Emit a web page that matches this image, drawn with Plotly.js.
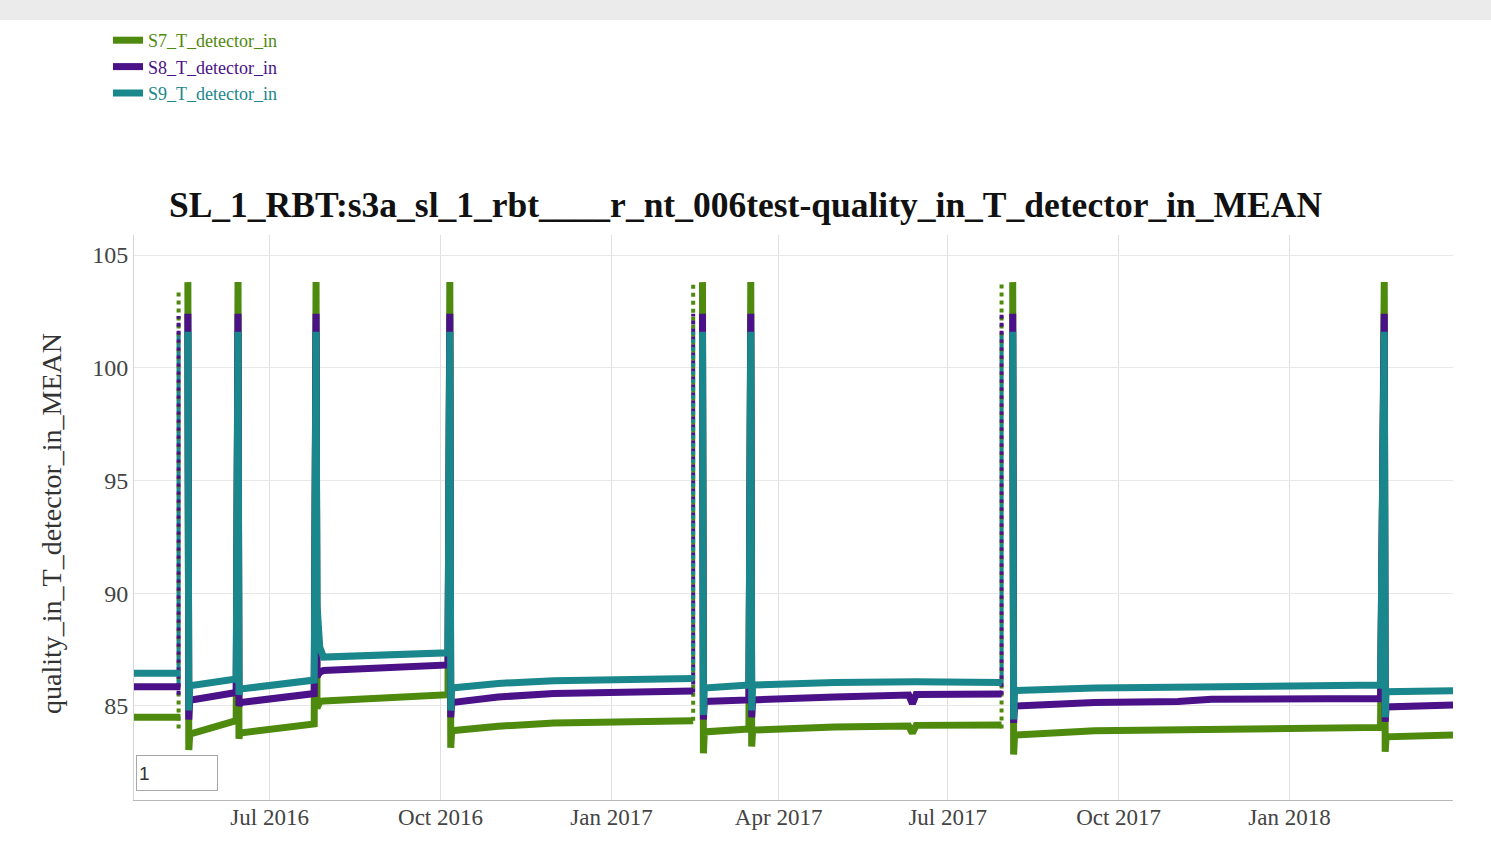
<!DOCTYPE html>
<html>
<head>
<meta charset="utf-8">
<script src="https://cdn.plot.ly/plotly-3.0.1.min.js"></script>
<style>
  html, body { margin: 0; padding: 0; background: #fff; }
  #topbar { position: absolute; left: 0; top: 0; width: 1491px; height: 20px; background: #ebebeb; z-index: 5; }
  #chart { width: 1491px; height: 845px; }
</style>
</head>
<body>
<div id="topbar"></div>
<div id="chart"></div>
<script>
// Sample times of the detector inlet temperature record (null values mark gaps)
const mainDates = [
  '2016-04-19', '2016-05-14', '2016-05-16',
  '2016-05-18', '2016-05-18 12:00', '2016-05-19', '2016-06-13',
  '2016-06-14', '2016-06-14 12:00', '2016-06-15', '2016-07-25',
  '2016-07-26', '2016-07-26 12:00', '2016-07-28', '2016-07-30', '2016-10-05',
  '2016-10-06', '2016-10-06 12:00', '2016-10-07', '2016-11-01', '2016-12-01', '2017-02-14', '2017-02-16',
  '2017-02-19', '2017-02-19 12:00', '2017-02-20', '2017-03-16',
  '2017-03-17', '2017-03-17 12:00', '2017-03-18', '2017-05-01', '2017-06-10', '2017-06-12', '2017-06-14', '2017-07-30', '2017-08-02',
  '2017-08-05', '2017-08-05 12:00', '2017-08-06', '2017-09-18', '2017-11-02', '2017-11-20', '2017-12-23', '2018-02-19',
  '2018-02-21', '2018-02-21 12:00', '2018-02-22', '2018-03-30'
];

const s7Vals = [
  84.5, 84.5, null,
  103.8, 83.05, 83.75, 84.35,
  103.8, 83.55, 83.8, 84.2,
  103.8, 84.9, 85.2, 85.22, 85.5,
  103.8, 83.15, 83.9, 84.1, 84.25, 84.35, null,
  103.8, 82.9, 83.85, 83.98,
  103.8, 83.2, 83.93, 84.07, 84.11, 83.8, 84.14, 84.16, null,
  103.8, 82.85, 83.71, 83.9, 83.95, 84.0, 84.02, 84.05,
  103.8, 82.97, 83.63, 83.71
];

const s8Vals = [
  85.85, 85.85, null,
  102.4, 84.4, 85.25, 85.6,
  102.4, 85.0, 85.15, 85.55,
  102.4, 86.3, 86.5, 86.57, 86.82,
  102.4, 84.5, 85.15, 85.4, 85.55, 85.67, null,
  102.4, 84.4, 85.2, 85.27,
  102.4, 84.5, 85.27, 85.4, 85.49, 85.1, 85.51, 85.53, null,
  102.4, 84.25, 85.0, 85.15, 85.2, 85.3, 85.33, 85.33,
  102.4, 84.3, 84.96, 85.04
];

const s9Vals = [
  86.45, 86.45, null,
  101.6, 84.8, 85.9, 86.2,
  101.6, 85.5, 85.75, 86.15,
  101.6, 89.5, 87.6, 87.17, 87.36,
  101.6, 84.8, 85.8, 86.0, 86.12, 86.22, null,
  101.6, 84.6, 85.8, 85.93,
  101.6, 84.8, 85.93, 86.04, 86.08, 86.08, 86.07, 86.04, null,
  101.6, 84.4, 85.68, 85.8, 85.83, 85.85, 85.9, 85.93,
  101.6, 84.5, 85.63, 85.68
];

// Sparsely sampled warm-up ramps before three of the peaks
const rampDates = ['2016-05-13', '2017-02-14', '2017-07-30'];
const s7RampLow = [84.0, 84.35, 84.0];
const s7RampHigh = [103.4, 103.8, 103.8];
const s8RampLow = [85.5, 85.6, 85.5];
const s8RampHigh = [102.3, 102.4, 102.4];
const s9RampLow = [86.0, 86.2, 86.0];
const s9RampHigh = [101.5, 101.6, 101.6];

const seriesNames = ['S7_T_detector_in', 'S8_T_detector_in', 'S9_T_detector_in'];
const seriesColors = ['#4e8a0e', '#4a1189', '#1a878c'];

const chartTitle = 'SL_1_RBT:s3a_sl_1_rbt____r_nt_006test-quality_in_T_detector_in_MEAN';
const yTitle = 'quality_in_T_detector_in_MEAN';
const pageLabel = '1';

const serif = '"Liberation Serif", "Times New Roman", Times, serif';

const series = [
  { name: seriesNames[0], color: seriesColors[0], vals: s7Vals, low: s7RampLow, high: s7RampHigh },
  { name: seriesNames[1], color: seriesColors[1], vals: s8Vals, low: s8RampLow, high: s8RampHigh },
  { name: seriesNames[2], color: seriesColors[2], vals: s9Vals, low: s9RampLow, high: s9RampHigh }
];

const traces = [];

// dotted ramps underneath
series.forEach(s => {
  const x = [], y = [];
  rampDates.forEach((d, i) => { x.push(d, d, null); y.push(s.low[i], s.high[i], null); });
  traces.push({
    type: 'scatter', mode: 'lines', x: x, y: y,
    line: { color: s.color, width: 4, dash: 'dot' },
    showlegend: false, legendgroup: s.name, hoverinfo: 'skip'
  });
});

// main records
series.forEach(s => {
  traces.push({
    type: 'scatter', mode: 'lines',
    name: '<span style="color:' + s.color + '">' + s.name + '</span>',
    x: mainDates, y: s.vals,
    line: { color: s.color, width: 7 },
    connectgaps: false, legendgroup: s.name
  });
});

const plotW = 1491 - 134 - 38;
const plotH = 845 - 235 - 45;

const layout = {
  width: 1491, height: 845,
  margin: { l: 134, r: 38, t: 235, b: 45, autoexpand: false },
  paper_bgcolor: '#ffffff', plot_bgcolor: '#ffffff',
  font: { family: serif, color: '#444' },
  title: {
    text: chartTitle,
    font: { family: serif, size: 35.5, color: '#111', weight: 'bold' },
    x: 0.5, xanchor: 'center', xref: 'container',
    y: 1 - 205 / 845, yanchor: 'middle', yref: 'container'
  },
  showlegend: true,
  legend: {
    x: 108 / 1491, xref: 'container', xanchor: 'left',
    y: 1 - 22 / 845, yref: 'container', yanchor: 'top',
    font: { family: serif, size: 18 },
    bgcolor: 'rgba(0,0,0,0)', tracegroupgap: 0
  },
  xaxis: {
    type: 'date',
    range: ['2016-04-19', '2018-03-30'],
    dtick: 'M3', tick0: '2016-01-01', tickformat: '%b %Y',
    showgrid: true, gridcolor: '#e0e0e0', gridwidth: 1,
    showline: true, linecolor: '#b8b8b8', linewidth: 1,
    zeroline: false, ticks: '', automargin: false, ticklabelstandoff: -4,
    tickfont: { family: serif, size: 23, color: '#444' }
  },
  yaxis: {
    range: [80.83, 105.89],
    dtick: 5, tick0: 0,
    showgrid: true, gridcolor: '#e8e8e8', gridwidth: 1,
    showline: true, linecolor: '#d4d4d4', linewidth: 1,
    zeroline: false, ticks: '', automargin: false,
    tickfont: { family: serif, size: 24, color: '#444' }
  },
  annotations: [
    {
      // vertical axis caption
      xref: 'paper', yref: 'paper',
      x: (51 - 134) / plotW, y: (800 - 524) / plotH,
      xanchor: 'center', yanchor: 'middle', textangle: -90,
      text: yTitle, showarrow: false,
      font: { family: serif, size: 28, color: '#333' }
    },
    {
      xref: 'paper', yref: 'paper', x: 2 / plotW, y: 9 / plotH,
      xanchor: 'left', yanchor: 'bottom',
      text: pageLabel, showarrow: false, align: 'left',
      width: 76, height: 30, borderpad: 2,
      bordercolor: '#a8a8a8', borderwidth: 1, bgcolor: '#ffffff',
      font: { family: '"Liberation Sans", Arial, sans-serif', size: 19, color: '#333' }
    }
  ]
};

Plotly.newPlot('chart', traces, layout, { displayModeBar: false, responsive: false });
</script>
</body>
</html>
